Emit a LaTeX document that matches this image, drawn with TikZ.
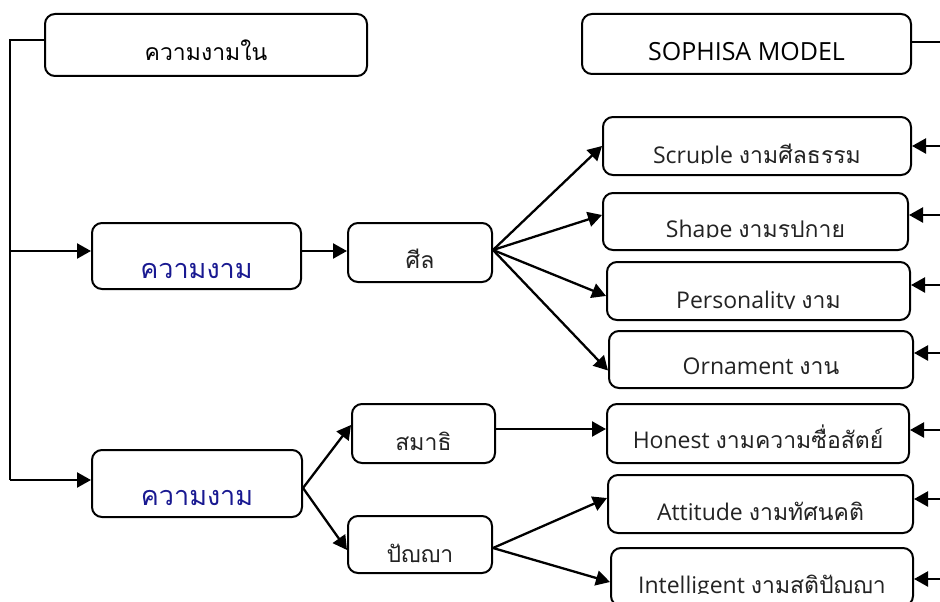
\documentclass[tikz,border=0pt]{standalone}
\usepackage{fontspec}
\setmainfont{Open Sans}
\newfontfamily\thai[Script=Thai]{Loma}
\IfFileExists{adjustbox.sty}{\usepackage{adjustbox}\def\havecutbox{1}}{}
\ifdefined\havecutbox
  \newcommand\cuttxt[1]{\clipbox{0pt {\depth} 0pt 0pt}{#1}}
\else
  \newcommand\cuttxt[1]{#1}
\fi
\usetikzlibrary{arrows.meta,calc}
\definecolor{kblue}{RGB}{25,25,145}
\definecolor{txt}{RGB}{35,35,35}
\begin{document}
\begin{tikzpicture}[x=1pt,y=-1pt,
  box/.style={draw=black, line width=2pt, rounded corners=10pt, fill=white,
    inner sep=0pt, align=center, font=\fontsize{23}{26}\selectfont, text=txt,
    text depth=0pt},
  low/.style={text height=#1},
  bw/.style={minimum width=#1},
  bh/.style={minimum height=#1},
  line/.style={draw=black, line width=2.3pt},
  arr/.style={line, -{Triangle[length=14pt,width=15pt]}}]
\useasboundingbox (0,0) rectangle (940,602);

% top row
\node[box, bw=322pt, bh=62pt, low=30pt, text=black] (top1) at (206,45) {\thai ความงามใน};
\node[box, bw=329pt, bh=60pt, low=32pt, text=black, font=\fontsize{25}{28}\selectfont] (sop) at (746.5,44) {SOPHISA MODEL};

% left column
\node[box, bw=209pt, bh=66pt, low=44pt, text=kblue, font=\fontsize{27}{30}\selectfont] (k1) at (196.5,256) {\thai ความงาม};
\node[box, bw=210pt, bh=67pt, low=43pt, text=kblue, font=\fontsize{27}{30}\selectfont] (k2) at (197,483.5) {\cuttxt{\thai ความงาม}};

% middle column
\node[box, bw=144pt, bh=59pt, low=31pt] (sil) at (420,252.5) {\thai ศีล};
\node[box, bw=143pt, bh=59pt, low=33pt] (sam) at (423.5,433.5) {\thai สมาธิ};
\node[box, bw=144pt, bh=57pt, low=35pt] (pan) at (420,544.5) {\cuttxt{\thai ปัญญา}};

% right column
\node[box, bw=308pt, bh=58pt, low=34pt] (scr) at (757,146) {\cuttxt{Scruple {\thai งามศีลธรรม}}};
\node[box, bw=305pt, bh=57pt, low=31pt] (shp) at (755.5,221.5) {\cuttxt{Shape {\thai งามรูปกาย}}};
\node[box, bw=303pt, bh=58pt, low=34pt] (per) at (758.5,291) {\cuttxt{Personality {\thai งาม}}};
\node[box, bw=304pt, bh=57pt, low=29pt] (orn) at (761,359.5) {Ornament {\thai งาน}};
\node[box, bw=302pt, bh=59pt, low=29pt] (hon) at (758,433.5) {Honest {\thai งามความซื่อสัตย์}};
\node[box, bw=305pt, bh=58pt, low=32pt] (att) at (760.5,504) {Attitude {\thai งามทัศนคติ}};
\node[box, bw=302pt, bh=58pt, low=32pt] (int) at (762,577) {\cuttxt{Intelligent {\thai งามสติปัญญา}}};

% spine on the left
\coordinate (spine) at (10,480);
\coordinate (k1in) at ([yshift=5pt]k1.west);
\coordinate (k2in) at ([yshift=3.5pt]k2.west);
\draw[line] ([yshift=5pt]top1.west) -| (spine);
\draw[arr] (spine |- k1in) -- (k1in);
\draw[arr] (spine) -- (k2in);

% k1 -> sil
\draw[arr] ([yshift=5pt]k1.east) -- ([yshift=5pt]k1.east -| sil.west);

% sil fan
\coordinate (silo) at ([yshift=2.5pt]sil.east);
\draw[arr] (silo) -- (scr.west);
\draw[arr] (silo) -- ([yshift=6.5pt]shp.west);
\draw[arr] (silo) -- ([yshift=-5pt]per.west);
\draw[arr] (silo) -- ([yshift=-11pt]orn.west);

% k2 fan
\coordinate (k2o) at ([yshift=-4.5pt]k2.east);
\draw[arr] (k2o) -- ([yshift=8.5pt]sam.west);
\draw[arr] (k2o) -- ([yshift=-5.5pt]pan.west);

% sam -> hon
\draw[arr] ([yshift=4.5pt]sam.east) -- ([yshift=4.5pt]hon.west);

% pan fan
\coordinate (pano) at ([yshift=-3.5pt]pan.east);
\draw[arr] (pano) -- ([yshift=6pt]att.west);
\draw[arr] (pano) -- ([yshift=-5pt]int.west);

% incoming from the right edge
\coordinate (redge) at (940,0);
\draw[line] ([yshift=2pt]sop.east) -- ([yshift=2pt]sop.east -| redge);
\draw[arr] (scr.east -| redge) -- (scr.east);
\draw[arr] ([yshift=6.5pt]shp.east -| redge) -- ([yshift=6.5pt]shp.east);
\draw[arr] ([yshift=6pt]per.east -| redge) -- ([yshift=6pt]per.east);
\draw[arr] ([yshift=6.5pt]orn.east -| redge) -- ([yshift=6.5pt]orn.east);
\draw[arr] ([yshift=3.5pt]hon.east -| redge) -- ([yshift=3.5pt]hon.east);
\draw[arr] ([yshift=5pt]att.east -| redge) -- ([yshift=5pt]att.east);
\draw[arr] ([yshift=-2pt]int.east -| redge) -- ([yshift=-2pt]int.east);
\end{tikzpicture}
\end{document}
